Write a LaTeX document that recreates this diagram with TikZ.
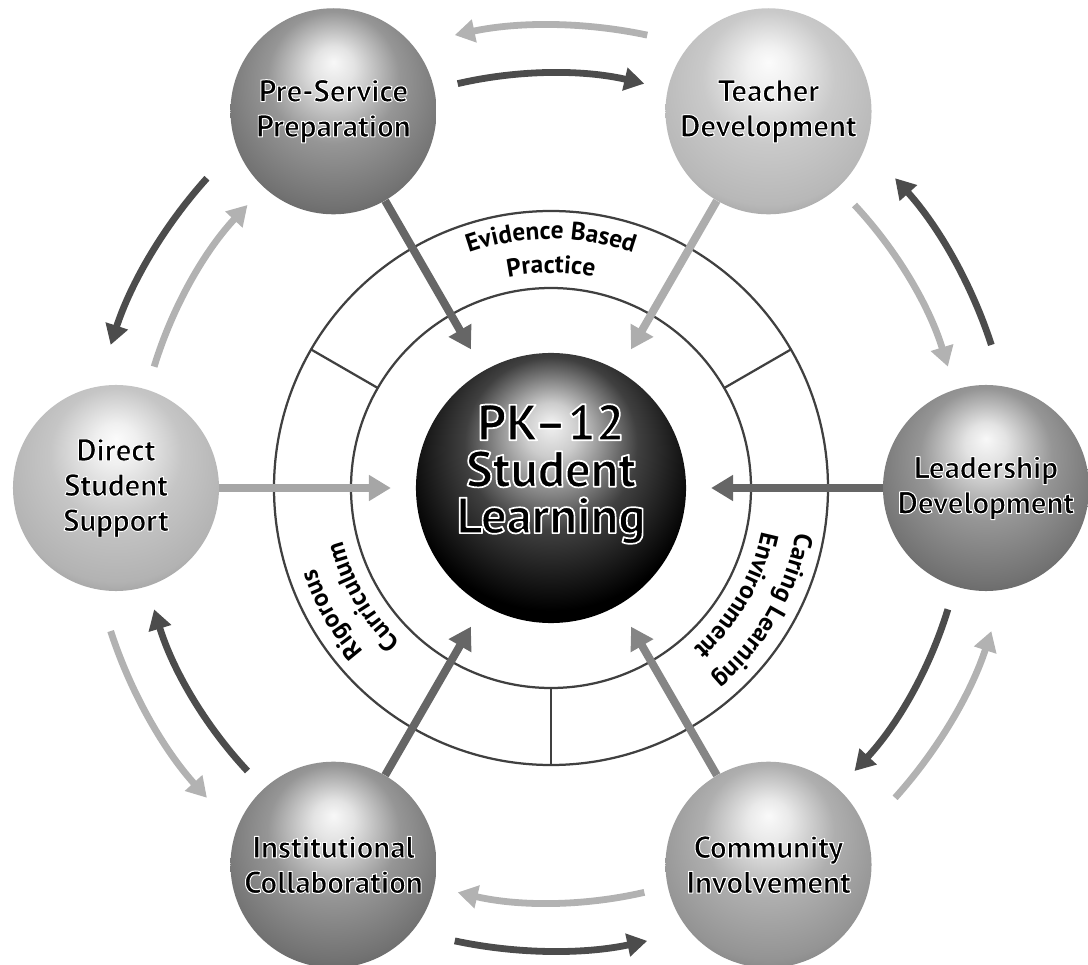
\documentclass[tikz,border=0pt]{standalone}
\usepackage{fontspec}
\setmainfont{PT Sans}
\usetikzlibrary{arrows.meta}
\usetikzlibrary{decorations.text}

% shaded globe, tone picked per node
\colorlet{orbtone}{gray}
\pgfdeclareradialshading[orbtone]{orb}{\pgfpoint{0bp}{12bp}}{%
  color(0bp)=(orbtone!5!white); color(5bp)=(orbtone!20!white);
  color(16bp)=(orbtone!75!white); color(28bp)=(orbtone);
  color(36bp)=(orbtone!75!black); color(50bp)=(orbtone!75!black)}

% black letters with a thin white rim (fill, then white stroke)
\newcommand{\glow}[2][0.7]{\special{pdf:literal direct 1 j 1 G #1 w 2 Tr}#2\special{pdf:literal direct 0 Tr 0 G}}
\newcommand{\orbfont}{\fontsize{22}{25}\selectfont\bfseries}
\newcommand{\ringfont}{\fontsize{18}{18}\selectfont\bfseries}
\newcommand{\corefont}{\fontsize{36}{33}\selectfont\bfseries}

\tikzset{
  orb/.style={circle, inner sep=0pt, minimum size=5.15cm, align=center,
    /utils/exec={\colorlet{orbtone}{#1}}, shade, shading=orb, font=\orbfont},
  feed/.style={draw=#1, line width=0.2cm,
    -{Triangle[width=0.62cm,length=0.55cm]}, shorten >=0.62cm},
  swirl/.style={draw=#1, line width=0.17cm,
    -{Triangle[width=0.56cm,length=0.5cm]}},
  ringline/.style={draw=black!75, line width=1.6pt},
  ringtext/.style={decorate, decoration={text along path, text align=center,
    text={|\ringfont|#1}}}
}

\begin{document}
\begin{tikzpicture}[x=0.025cm, y=0.025cm]
  \useasboundingbox (0,0) rectangle (1088,-965);

  \begin{scope}[shift={(551,-488)}]
    % the ring of three practices
    \draw[ringline] (0,0) circle[radius=277] (0,0) circle[radius=200];
    \foreach \a in {30,150,270}
      \draw[ringline] (\a:200) -- (\a:277);

    \path[ringtext={Evidence Based}] (150:249) arc[start angle=150, end angle=30, radius=249];
    \path[ringtext={Practice}] (150:215) arc[start angle=150, end angle=30, radius=215];
    \path[ringtext={Caring Learning}] (30:249) arc[start angle=30, end angle=-90, radius=249];
    \path[ringtext={Environment}] (30:215) arc[start angle=30, end angle=-90, radius=215];
    \path[ringtext={Rigorous}] (270:249) arc[start angle=270, end angle=150, radius=249];
    \path[ringtext={Curriculum}] (270:215) arc[start angle=270, end angle=150, radius=215];

    % globes
    \node[orb=black!55] (prep) at (120:435) {\glow{Pre-Service}\\\glow{Preparation}};
    \node[orb=black!28] (teach) at (60:435) {\glow{Teacher}\\\glow{Development}};
    \node[orb=black!55] (lead) at (0:435) {\glow{Leadership}\\\glow{Development}};
    \node[orb=black!42] (comm) at (300:435) {\glow{Community}\\\glow{Involvement}};
    \node[orb=black!55] (inst) at (240:435) {\glow{Institutional}\\\glow{Collaboration}};
    \node[orb=black!30] (direct) at (180:435) {\glow{Direct}\\\glow{Student}\\\glow{Support}};

    \node[orb=black, minimum size=6.75cm] (core) at (0,0) {};
    \node[font=\corefont, align=center] (corelabel) at (0,14)
      {\glow[1.2]{PK–12}\\\glow[1.2]{Student}\\\glow[1.2]{Learning}};

    % everything feeds the centre
    \draw[feed=black!60] (prep) -- (core);
    \draw[feed=black!32] (teach) -- (core);
    \draw[feed=black!60] (lead) -- (core);
    \draw[feed=black!48] (comm) -- (core);
    \draw[feed=black!60] (inst) -- (core);
    \draw[feed=black!35] (direct) -- (core);

    % two-way arcs between neighbours
    \foreach \c/\outcol/\incol in {90/black!30/black!70, 30/black!70/black!30,
        330/black!30/black!70, 270/black!70/black!30,
        210/black!30/black!70, 150/black!70/black!30} {
      \draw[swirl=\outcol] (\c-12:463) arc[start angle=\c-12, end angle=\c+12, radius=463];
      \draw[swirl=\incol] (\c+13:415) arc[start angle=\c+13, end angle=\c-13, radius=415];
    }
  \end{scope}
\end{tikzpicture}
\end{document}
